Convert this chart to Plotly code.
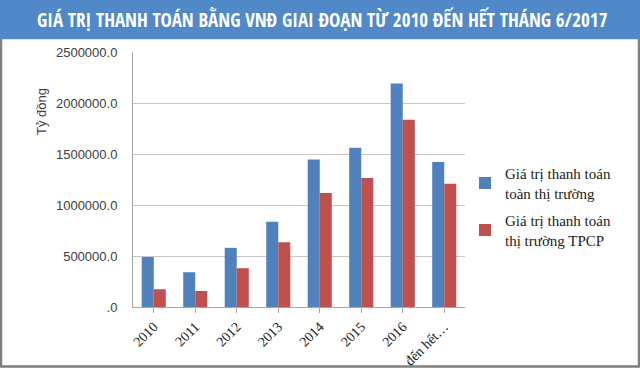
import plotly.graph_objects as go

categories = ["2010", "2011", "2012", "2013", "2014", "2015", "2016", "đến hết…"]
total_market = [490000, 341000, 580000, 835000, 1447000, 1562000, 2190000, 1421000]
bond_market = [174000, 157000, 380000, 636000, 1117000, 1264000, 1837000, 1208000]
series_names = ["Giá trị thanh toán<br>toàn thị trường", "Giá trị thanh toán<br>thị trường TPCP"]
y_tick_vals = [0, 500000, 1000000, 1500000, 2000000, 2500000]
y_tick_text = [".0", "500000.0", "1000000.0", "1500000.0", "2000000.0", "2500000.0"]
title_text = "GIÁ TRỊ THANH TOÁN BẰNG VNĐ GIAI ĐOẠN TỪ 2010 ĐẾN HẾT THÁNG 6/2017"
y_title = "Tỷ đồng"

W, H = 640, 368
L, R, T, B = 133, 465, 52, 307

def px_x(p):
    return (p - L) / (R - L)

def px_y(p):
    return (B - p) / (B - T)

fig = go.Figure()
fig.add_trace(go.Bar(x=categories, y=total_market, name=series_names[0], marker_color="#4F81BD", legendgroup="a"))
fig.add_trace(go.Bar(x=categories, y=bond_market, name=series_names[1], marker_color="#C0504D", legendgroup="b"))

fig.update_layout(
    template="none",
    width=W, height=H,
    margin=dict(l=L, r=W - R, t=T, b=H - B, pad=0, autoexpand=False),
    paper_bgcolor="white", plot_bgcolor="white",
    barmode="group", bargap=0.42, bargroupgap=0,
    showlegend=True,
    legend=dict(
        x=px_x(465), y=px_y(157), xanchor="left", yanchor="top",
        font=dict(family="Liberation Serif", size=15, color="#222"),
        tracegroupgap=5, itemwidth=30,
        bgcolor="rgba(0,0,0,0)",
    ),
    xaxis=dict(
        type="category", automargin=False, dtick=1,
        showgrid=False, showline=True, linecolor="#a6a6a6", linewidth=1,
        ticks="outside", ticklen=5, tickcolor="#a6a6a6",
        tickangle=-45, tickfont=dict(family="Liberation Serif", size=14, color="#222"),
        fixedrange=True,
    ),
    yaxis=dict(
        automargin=False,
        range=[0, 2500000], tickvals=y_tick_vals, ticktext=y_tick_text,
        showgrid=True, gridcolor="#c8c8c8", gridwidth=1,
        showline=True, linecolor="#a6a6a6", linewidth=1,
        ticks="", ticklabelstandoff=12,
        tickfont=dict(family="Liberation Sans", size=13, color="#404040"),
        zeroline=False, fixedrange=True,
    ),
    shapes=[
        dict(type="rect", xref="paper", yref="paper",
             x0=px_x(1), x1=px_x(639), y0=px_y(366.5), y1=px_y(38),
             line=dict(color="#7f7f7f", width=2.5), fillcolor="rgba(0,0,0,0)", layer="below"),
        dict(type="rect", xref="paper", yref="paper",
             x0=px_x(0), x1=px_x(640), y0=px_y(39), y1=px_y(0),
             line=dict(width=0), fillcolor="#5189C8", layer="below"),
    ],
    annotations=[
        dict(text="<b>" + title_text + "</b>", xref="paper", yref="paper",
             x=px_x(322), y=px_y(20), xanchor="center", yanchor="middle", showarrow=False,
             font=dict(family="Open Sans Condensed", size=19, color="white")),
        dict(text=y_title, xref="paper", yref="paper", textangle=-90,
             x=px_x(41), y=px_y(112), xanchor="center", yanchor="middle", showarrow=False,
             font=dict(family="Liberation Sans", size=13, color="#404040")),
    ],
)

fig.write_html("out.html", config={"displayModeBar": False},
               post_script="document.body.style.margin='0';document.body.style.overflow='hidden';")
